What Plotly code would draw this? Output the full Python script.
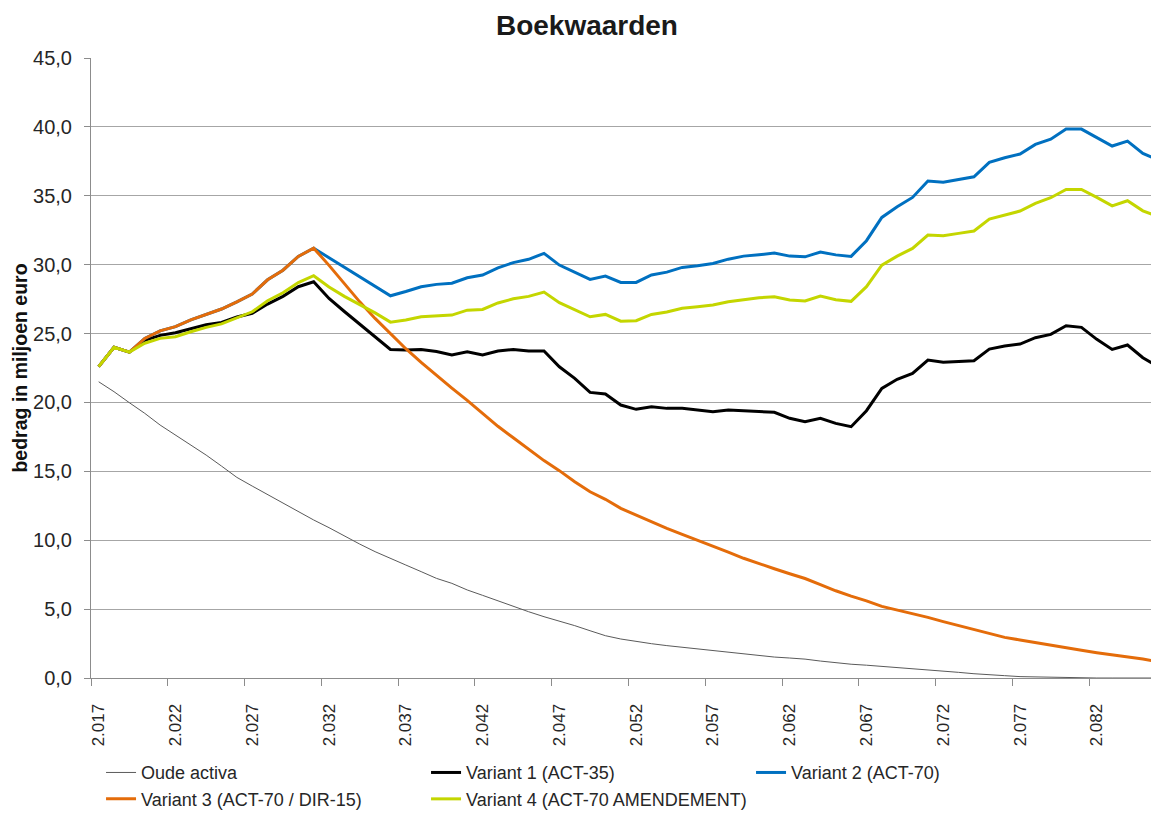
import plotly.graph_objects as go

years = list(range(2017, 2087))

oude_activa = [21.5, 20.78, 19.98, 19.21, 18.36, 17.63, 16.91, 16.18, 15.38, 14.56,
               13.93, 13.3, 12.68, 12.07, 11.47, 10.91, 10.3, 9.72, 9.17, 8.66,
               8.2, 7.72, 7.23, 6.87, 6.39, 6.0, 5.61, 5.17, 4.81, 4.45,
               4.14, 3.8, 3.43, 3.07, 2.83, 2.64, 2.49, 2.35, 2.23, 2.1,
               1.98, 1.84, 1.72, 1.62, 1.52, 1.45, 1.37, 1.23, 1.1, 1.0,
               0.93, 0.85, 0.73, 0.65, 0.56, 0.48, 0.41, 0.31, 0.22, 0.17,
               0.1, 0.07, 0.05, 0.02, 0, 0, 0, 0, 0, 0]

variant1 = [22.6, 24.0, 23.65, 24.5, 24.87, 25.06, 25.35, 25.64, 25.8, 26.2,
            26.47, 27.14, 27.7, 28.4, 28.76, 27.55, 26.6, 25.7, 24.8, 23.85,
            23.8, 23.85, 23.7, 23.44, 23.68, 23.44, 23.73, 23.85, 23.73, 23.73,
            22.59, 21.75, 20.73, 20.61, 19.81, 19.5, 19.69, 19.57, 19.57, 19.45,
            19.33, 19.45, 19.4, 19.33, 19.28, 18.85, 18.6, 18.85, 18.48, 18.24,
            19.4, 21.02, 21.68, 22.11, 23.08, 22.91, 22.96, 23.03, 23.87, 24.09,
            24.24, 24.7, 24.94, 25.57, 25.45, 24.58, 23.85, 24.17, 23.25, 22.59]

variant2 = [22.6, 24.0, 23.65, 24.65, 25.2, 25.5, 26.0, 26.4, 26.78, 27.3,
            27.87, 28.9, 29.6, 30.6, 31.2, 30.5, 29.8, 29.1, 28.4, 27.74,
            28.05, 28.4, 28.57, 28.65, 29.05, 29.25, 29.77, 30.15, 30.39, 30.82,
            29.97, 29.44, 28.93, 29.17, 28.71, 28.71, 29.25, 29.46, 29.8, 29.92,
            30.09, 30.4, 30.62, 30.72, 30.84, 30.62, 30.57, 30.92, 30.71, 30.6,
            31.74, 33.43, 34.2, 34.88, 36.07, 35.99, 36.21, 36.38, 37.42, 37.76,
            38.03, 38.73, 39.11, 39.84, 39.84, 39.21, 38.61, 38.97, 38.07, 37.59]

variant3 = [22.6, 24.0, 23.65, 24.65, 25.2, 25.5, 26.0, 26.4, 26.78, 27.3,
            27.87, 28.9, 29.6, 30.6, 31.2, 29.95, 28.6, 27.3, 26.1, 25.0,
            23.9, 22.9, 21.95, 21.04, 20.15, 19.21, 18.27, 17.44, 16.58, 15.78,
            15.05, 14.25, 13.52, 12.97, 12.31, 11.81, 11.32, 10.86, 10.43, 10.01,
            9.58, 9.14, 8.69, 8.29, 7.93, 7.57, 7.22, 6.78, 6.33, 5.94,
            5.6, 5.2, 4.93, 4.69, 4.4, 4.09, 3.8, 3.48, 3.19, 2.95,
            2.76, 2.56, 2.37, 2.18, 2.01, 1.84, 1.69, 1.55, 1.38, 1.16]

variant4 = [22.6, 24.0, 23.65, 24.3, 24.65, 24.77, 25.13, 25.45, 25.7, 26.15,
            26.58, 27.38, 27.96, 28.7, 29.2, 28.38, 27.7, 27.1, 26.5, 25.83,
            25.98, 26.22, 26.27, 26.34, 26.7, 26.75, 27.22, 27.52, 27.7, 28.01,
            27.24, 26.75, 26.22, 26.39, 25.9, 25.93, 26.39, 26.56, 26.83, 26.95,
            27.07, 27.31, 27.48, 27.6, 27.67, 27.43, 27.36, 27.72, 27.46, 27.34,
            28.4, 29.97, 30.62, 31.18, 32.15, 32.1, 32.27, 32.44, 33.31, 33.6,
            33.89, 34.45, 34.86, 35.46, 35.46, 34.88, 34.27, 34.64, 33.91, 33.48]

series_names = ["Oude activa", "Variant 1 (ACT-35)", "Variant 2 (ACT-70)",
                "Variant 3 (ACT-70 / DIR-15)", "Variant 4 (ACT-70 AMENDEMENT)"]
series_values = [oude_activa, variant1, variant2, variant3, variant4]
series_colors = ["#5a5a5a", "#000000", "#0070C0", "#E46C0A", "#C4D600"]
series_widths = [1, 3, 3, 3, 3]

x_tick_years = list(range(2017, 2083, 5))
x_tick_labels = ["2.017", "2.022", "2.027", "2.032", "2.037", "2.042", "2.047",
                 "2.052", "2.057", "2.062", "2.067", "2.072", "2.077", "2.082"]
y_tick_vals = [0, 5, 10, 15, 20, 25, 30, 35, 40, 45]
y_tick_labels = ["0,0", "5,0", "10,0", "15,0", "20,0", "25,0", "30,0", "35,0", "40,0", "45,0"]

FONT = "Liberation Sans, Arial, sans-serif"
TXT = "#262626"

# The page body has an 8px default margin; size the figure so it fills the
# 1159x814 window exactly from that offset.
W, H = 1151, 806

fig = go.Figure()
for name, vals, col, w in zip(series_names, series_values, series_colors, series_widths):
    fig.add_trace(go.Scatter(x=years, y=vals, mode="lines", name=name,
                             line=dict(color=col, width=w)))

fig.update_layout(
    width=W, height=H,
    margin=dict(l=83, r=0, t=50, b=136, autoexpand=False),
    paper_bgcolor="white", plot_bgcolor="white",
    font=dict(family=FONT, color=TXT),
    title=dict(text="<b>Boekwaarden</b>", x=0.503, xanchor="center",
               y=1 - 17 / H, yanchor="middle",
               font=dict(size=28, color="#1a1a1a", family=FONT)),
    showlegend=True,
    legend=dict(orientation="h", x=0.0094, y=-0.123, xanchor="left", yanchor="top",
                entrywidth=280, entrywidthmode="pixels",
                font=dict(size=18, color=TXT, family=FONT),
                bgcolor="rgba(0,0,0,0)", itemwidth=30, tracegroupgap=0),
)

fig.update_xaxes(
    range=[2016.5, 2086.05],
    tickmode="array", tickvals=x_tick_years, ticktext=x_tick_labels,
    tickangle=-90, ticks="", ticklabelstandoff=18,
    tickfont=dict(size=17, color=TXT, family=FONT),
    showgrid=False, zeroline=False,
    showline=True, linecolor="#8c8c8c", linewidth=1,
    minor=dict(tick0=2016.5, dtick=5, ticks="outside", ticklen=7,
               tickcolor="#8c8c8c", tickwidth=1, showgrid=False),
)

fig.update_yaxes(
    range=[0, 45],
    tickmode="array", tickvals=y_tick_vals, ticktext=y_tick_labels,
    ticks="outside", ticklen=6, tickcolor="#8c8c8c", ticklabelstandoff=8,
    tickfont=dict(size=20, color=TXT, family=FONT),
    showgrid=True, gridcolor="#a6a6a6", gridwidth=1,
    zeroline=False,
    showline=True, linecolor="#8c8c8c", linewidth=1,
    title=dict(text="<b>bedrag in miljoen euro</b>", standoff=0,
               font=dict(size=19.5, color="#111111", family=FONT)),
)

fig.write_html("out.html")
